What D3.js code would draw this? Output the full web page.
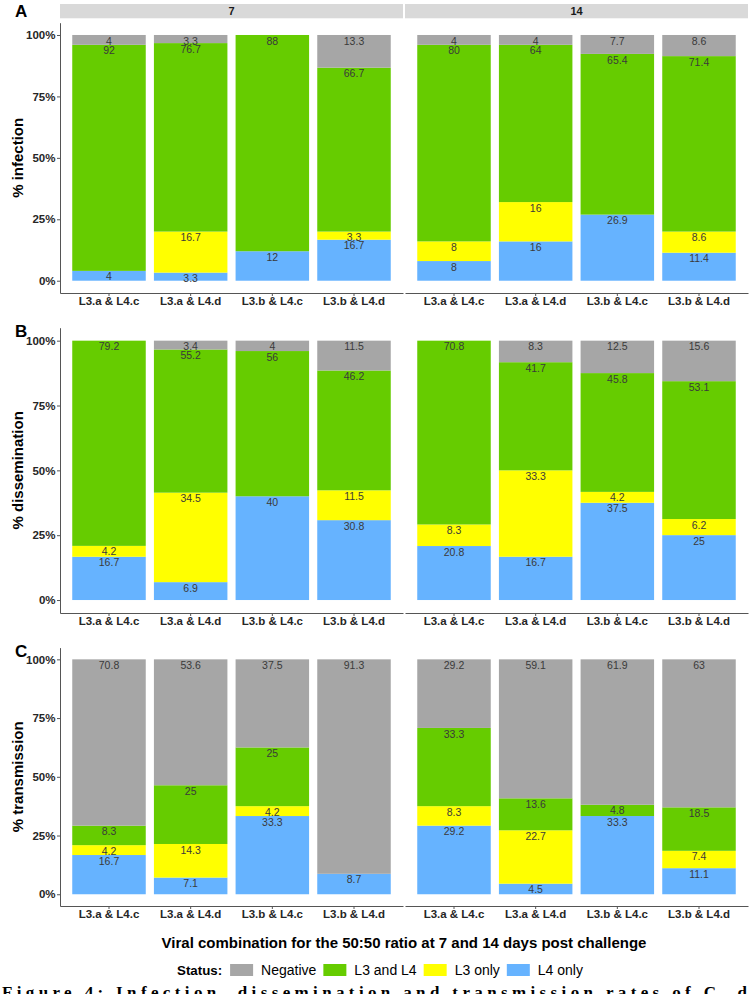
<!DOCTYPE html>
<html>
<head>
<meta charset="utf-8">
<script src="https://cdn.jsdelivr.net/npm/d3@7"></script>
<style>
  html, body { margin: 0; padding: 0; background: #fff; }
  svg { display: block; }
</style>
</head>
<body>
<svg id="chart" width="750" height="994" font-family="Liberation Sans, Arial, sans-serif"></svg>
<script>
// ---------------- data ----------------
const categories = ["L3.a & L4.c", "L3.a & L4.d", "L3.b & L4.c", "L3.b & L4.d"];
const days = ["7", "14"];
const statuses = ["Negative", "L3 and L4", "L3 only", "L4 only"];
const statusColors = ["#A6A6A6", "#66CC00", "#FFFF00", "#66B3FF"];

// values: day 7 (4 categories) then day 14 (4 categories)
const infectionNegative = [4, 3.3, 0, 13.3, 4, 4, 7.7, 8.6];
const infectionBoth     = [92, 76.7, 88, 66.7, 80, 64, 65.4, 71.4];
const infectionL3       = [0, 16.7, 0, 3.3, 8, 16, 0, 8.6];
const infectionL4       = [4, 3.3, 12, 16.7, 8, 16, 26.9, 11.4];

const disseminationNegative = [0, 3.4, 4, 11.5, 0, 8.3, 12.5, 15.6];
const disseminationBoth     = [79.2, 55.2, 56, 46.2, 70.8, 41.7, 45.8, 53.1];
const disseminationL3       = [4.2, 34.5, 0, 11.5, 8.3, 33.3, 4.2, 6.2];
const disseminationL4       = [16.7, 6.9, 40, 30.8, 20.8, 16.7, 37.5, 25];

const transmissionNegative = [70.8, 53.6, 37.5, 91.3, 29.2, 59.1, 61.9, 63];
const transmissionBoth     = [8.3, 25, 25, 0, 33.3, 13.6, 4.8, 18.5];
const transmissionL3       = [4.2, 14.3, 4.2, 0, 8.3, 22.7, 0, 7.4];
const transmissionL4       = [16.7, 7.1, 33.3, 8.7, 29.2, 4.5, 33.3, 11.1];

const yTicks = [0, 0.25, 0.5, 0.75, 1];
const yTitles = ["% infection", "% dissemination", "% transmission"];
const panelLetters = ["A", "B", "C"];
const xTitle = "Viral combination for the 50:50 ratio at 7 and 14 days post challenge";
const legendTitle = "Status:";
const caption = "Figure 4: Infection, dissemination and transmission rates of C. d";

const panelData = [
  [infectionNegative, infectionBoth, infectionL3, infectionL4],
  [disseminationNegative, disseminationBoth, disseminationL3, disseminationL4],
  [transmissionNegative, transmissionBoth, transmissionL3, transmissionL4]
];

// ---------------- layout ----------------
const FONT = "Liberation Sans, Arial, sans-serif";
const svg = d3.select("#chart");
const facetX = [[60, 403], [405, 748]];
const rows = [
  { top: 22.7, bottom: 293, letterY: 17, strip: true },
  { top: 327.7, bottom: 613, letterY: 337, strip: false },
  { top: 647.6, bottom: 906, letterY: 657, strip: false }
];
const drawOrder = [3, 2, 1, 0]; // stack from bottom: L4 only, L3 only, L3 and L4, Negative

rows.forEach((row, ri) => {
  const y = d3.scaleLinear().domain([-0.05, 1.05]).range([row.bottom, row.top]);
  const series = panelData[ri];

  facetX.forEach((fx, di) => {
    const x = d3.scaleBand().domain(categories).range(fx)
      .paddingInner(0.1).paddingOuter(0.15);
    const g = svg.append("g");

    const rowsData = categories.map((c, ci) => {
      const idx = di * 4 + ci;
      const obj = { cat: c };
      statuses.forEach((s, si) => obj[s] = series[si][idx]);
      return obj;
    });
    const stack = d3.stack()
      .keys(drawOrder.map(i => statuses[i]))
      .offset(d3.stackOffsetExpand);
    const layers = stack(rowsData);

    layers.forEach(layer => {
      const si = statuses.indexOf(layer.key);
      g.selectAll(null).data(layer).join("rect")
        .attr("x", d => x(d.data.cat))
        .attr("width", x.bandwidth())
        .attr("y", d => y(d[1]))
        .attr("height", d => Math.max(0, y(d[0]) - y(d[1])))
        .attr("fill", statusColors[si]);
    });
    layers.forEach(layer => {
      g.selectAll(null).data(layer.filter(d => d.data[layer.key] > 0)).join("text")
        .attr("x", d => x(d.data.cat) + x.bandwidth() / 2)
        .attr("y", d => y(d[1]) + 9.6)
        .attr("text-anchor", "middle")
        .attr("font-size", 10.5)
        .attr("fill", "#3a3a3a")
        .text(d => d.data[layer.key]);
    });

    // x axis
    const xa = svg.append("g")
      .attr("transform", `translate(0,${row.bottom})`)
      .call(d3.axisBottom(x).tickSize(3).tickSizeOuter(0).tickPadding(1));
    xa.attr("font-family", FONT);
    xa.select(".domain").attr("stroke", "#555").attr("stroke-width", 1);
    xa.selectAll(".tick line").attr("stroke", "#555");
    xa.selectAll(".tick text")
      .attr("font-size", 11.5).attr("font-weight", "bold").attr("fill", "#262626");

    // y axis on the left facet only
    if (di === 0) {
      const ya = svg.append("g")
        .attr("transform", `translate(${fx[0]},0)`)
        .call(d3.axisLeft(y).tickValues(yTicks).tickFormat(d3.format(".0%"))
          .tickSize(3).tickSizeOuter(0).tickPadding(1.5));
      ya.attr("font-family", FONT);
      ya.select(".domain").attr("stroke", "#555").attr("stroke-width", 1);
      ya.selectAll(".tick line").attr("stroke", "#555");
      ya.selectAll(".tick text")
        .attr("font-size", 11.5).attr("font-weight", "bold").attr("fill", "#262626");
    }

    // strips
    if (row.strip) {
      svg.append("rect").attr("x", fx[0]).attr("y", 4)
        .attr("width", fx[1] - fx[0]).attr("height", 14.3).attr("fill", "#D9D9D9");
      svg.append("text").attr("x", (fx[0] + fx[1]) / 2).attr("y", 15.3)
        .attr("text-anchor", "middle").attr("font-size", 11).attr("font-weight", "bold")
        .attr("fill", "#1a1a1a").text(days[di]);
    }
  });

  // panel letter
  svg.append("text").attr("x", 15).attr("y", row.letterY)
    .attr("font-size", 17).attr("font-weight", "bold").attr("fill", "#000")
    .text(panelLetters[ri]);

  // y title
  const cy = (row.top + row.bottom) / 2;
  svg.append("text")
    .attr("transform", `translate(23,${cy}) rotate(-90)`)
    .attr("text-anchor", "middle").attr("font-size", 15).attr("font-weight", "bold")
    .attr("fill", "#000").text(yTitles[ri]);
});

// x title
svg.append("text").attr("x", 404).attr("y", 948)
  .attr("text-anchor", "middle").attr("font-size", 15).attr("font-weight", "bold")
  .attr("fill", "#000").text(xTitle);

// legend
const lg = svg.append("g");
const legY = 970;
let cx = 0;
const lt = lg.append("text").attr("x", cx).attr("y", legY + 4.8)
  .attr("font-size", 13.3).attr("font-weight", "bold").attr("fill", "#000").text(legendTitle);
cx += lt.node().getComputedTextLength() + 8;
statuses.forEach((s, i) => {
  lg.append("rect").attr("x", cx).attr("y", legY - 6).attr("width", 23).attr("height", 12)
    .attr("fill", statusColors[i]);
  cx += 23 + 8;
  const t = lg.append("text").attr("x", cx).attr("y", legY + 4.8)
    .attr("font-size", 14).attr("fill", "#000").text(s);
  cx += t.node().getComputedTextLength() + 7;
});
const totalW = cx - 7;
lg.attr("transform", `translate(${380 - totalW / 2},0)`);

// caption (cut off at the bottom edge)
svg.append("text").attr("x", 2).attr("y", 998)
  .attr("font-family", "Liberation Serif, 'Times New Roman', serif")
  .attr("font-size", 17).attr("font-weight", "bold").attr("fill", "#000")
  .attr("textLength", 745).attr("lengthAdjust", "spacing")
  .text(caption);
</script>
</body>
</html>
